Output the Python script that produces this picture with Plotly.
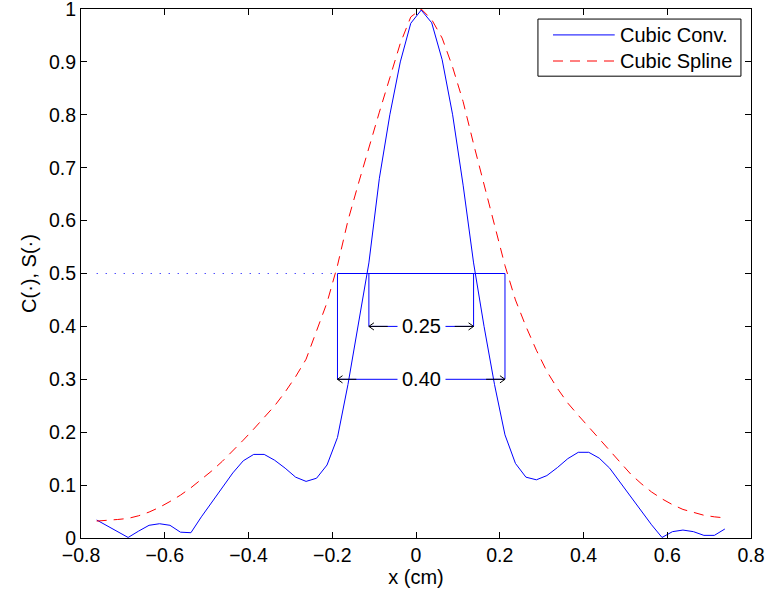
import plotly.graph_objects as go

# ---------------- data ----------------
x_cm = [-0.7625, -0.7375, -0.7125, -0.6875, -0.6625, -0.6375, -0.6125, -0.5875,
        -0.5625, -0.5375, -0.5125, -0.4875, -0.4625, -0.4375, -0.4125, -0.3875,
        -0.3625, -0.3375, -0.3125, -0.2875, -0.2625, -0.2375, -0.2125, -0.1875,
        -0.1625, -0.1375, -0.1125, -0.0875, -0.0625, -0.0375, -0.0125, 0.0125,
        0.0375, 0.0625, 0.0875, 0.1125, 0.1375, 0.1625, 0.1875, 0.2125,
        0.2375, 0.2625, 0.2875, 0.3125, 0.3375, 0.3625, 0.3875, 0.4125,
        0.4375, 0.4625, 0.4875, 0.5125, 0.5375, 0.5625, 0.5875, 0.6125,
        0.6375, 0.6625, 0.6875, 0.7125, 0.7375]

cubic_conv = [0.034, 0.023, 0.012, 0.001, 0.013, 0.024, 0.027, 0.024,
              0.011, 0.010, 0.040, 0.068, 0.096, 0.123, 0.146, 0.158,
              0.158, 0.147, 0.132, 0.115, 0.107, 0.113, 0.138, 0.190,
              0.290, 0.405, 0.520, 0.680, 0.800, 0.900, 0.973, 0.998,
              0.974, 0.904, 0.800, 0.667, 0.520, 0.400, 0.290, 0.195,
              0.141, 0.115, 0.110, 0.118, 0.133, 0.150, 0.162, 0.162,
              0.151, 0.132, 0.105, 0.077, 0.050, 0.025, 0.001, 0.012,
              0.015, 0.012, 0.005, 0.005, 0.017]

cubic_spline = [0.032, 0.033, 0.035, 0.037, 0.042, 0.049, 0.058, 0.069,
                0.081, 0.095, 0.111, 0.127, 0.145, 0.164, 0.185, 0.206,
                0.227, 0.250, 0.276, 0.305, 0.338, 0.390, 0.445, 0.515,
                0.600, 0.670, 0.740, 0.805, 0.870, 0.935, 0.985, 1.000,
                0.980, 0.945, 0.890, 0.825, 0.745, 0.670, 0.595, 0.515,
                0.450, 0.400, 0.355, 0.315, 0.283, 0.255, 0.232, 0.210,
                0.187, 0.164, 0.142, 0.121, 0.103, 0.087, 0.074, 0.063,
                0.054, 0.048, 0.043, 0.040, 0.038]

x_ticks = [-0.8, -0.6, -0.4, -0.2, 0, 0.2, 0.4, 0.6, 0.8]
y_ticks = [0, 0.1, 0.2, 0.3, 0.4, 0.5, 0.6, 0.7, 0.8, 0.9, 1]

half_max = 0.5
dotted_start = -0.7625
width_labels = ["0.25", "0.40"]
width_left = [-0.1125, -0.1875]
width_right = [0.1375, 0.2125]
width_level = [0.4, 0.3]

series_names = ["Cubic Conv.", "Cubic Spline"]

FONT = "Liberation Sans, Arial, Helvetica, sans-serif"
BLUE = "#0000ff"
RED = "#ff0000"

fig = go.Figure()

fig.add_trace(go.Scatter(x=x_cm, y=cubic_conv, mode="lines", name=series_names[0],
                         line=dict(color=BLUE, width=1), showlegend=False))
fig.add_trace(go.Scatter(x=x_cm, y=cubic_spline, mode="lines", name=series_names[1],
                         line=dict(color=RED, width=1, dash="10px,7px"), showlegend=False))

# width boxes (blue)
bx, by = [], []
for xl, xr, lv in zip(width_left, width_right, width_level):
    bx += [xl, xl, None, xr, xr, None, xl, xr, None]
    by += [half_max, lv, None, half_max, lv, None, lv, lv, None]
bx += [min(width_left), max(width_right)]
by += [half_max, half_max]
fig.add_trace(go.Scatter(x=bx, y=by, mode="lines", line=dict(color=BLUE, width=1),
                         showlegend=False, hoverinfo="skip"))

# dotted half-max line
fig.add_trace(go.Scatter(x=[dotted_start, min(width_left)], y=[half_max, half_max], mode="lines",
                         line=dict(color=BLUE, width=1, dash="1px,8px"), showlegend=False,
                         hoverinfo="skip"))

# arrows and labels
shaft = 0.045
hx, hy = 0.012, 0.0068
shapes = []
for lab, xl, xr, lv in zip(width_labels, width_left, width_right, width_level):
    shapes.append(dict(type="path", xref="x", yref="y",
                       path=f"M{xl+hx},{lv+hy} L{xl},{lv} L{xl+hx},{lv-hy} M{xl},{lv} L{xl+shaft},{lv}",
                       line=dict(color="black", width=1), layer="above"))
    shapes.append(dict(type="path", xref="x", yref="y",
                       path=f"M{xr-hx},{lv+hy} L{xr},{lv} L{xr-hx},{lv-hy} M{xr},{lv} L{xr-shaft},{lv}",
                       line=dict(color="black", width=1), layer="above"))
    fig.add_annotation(x=(xl + xr) / 2, y=lv, text=lab, showarrow=False,
                       font=dict(family=FONT, size=20, color="black"),
                       bgcolor="white", borderpad=4, xanchor="center", yanchor="middle")

# custom legend
lg_x0, lg_x1, lg_y0, lg_y1 = 0.682, 0.985, 0.873, 0.981
shapes.append(dict(type="rect", xref="paper", yref="paper", x0=lg_x0, x1=lg_x1, y0=lg_y0, y1=lg_y1,
                   line=dict(color="black", width=1), fillcolor="white", layer="above"))
legend_rows = [0.951, 0.9017]
legend_dash = ["solid", "10px,7px"]
legend_cols = [BLUE, RED]
for nm, yy, ds, cl in zip(series_names, legend_rows, legend_dash, legend_cols):
    shapes.append(dict(type="line", xref="paper", yref="paper", x0=0.7045, x1=0.7966, y0=yy, y1=yy,
                       line=dict(color=cl, width=1, dash=ds), layer="above"))
    fig.add_annotation(xref="paper", yref="paper", x=0.8015, y=yy, text=nm, showarrow=False,
                       xanchor="left", yanchor="middle",
                       font=dict(family=FONT, size=20, color="black"))

fig.update_layout(
    width=767, height=598,
    margin=dict(l=81, r=16, t=9, b=60, autoexpand=False),
    paper_bgcolor="white", plot_bgcolor="white",
    font=dict(family=FONT, size=19.5, color="black"),
    shapes=shapes,
    showlegend=False,
)
fig.update_xaxes(range=[-0.8, 0.8], tickvals=x_ticks, ticks="inside", ticklen=6,
                 tickcolor="black", showline=True, linecolor="black", linewidth=1,
                 mirror="ticks", showgrid=False, zeroline=False, automargin=False,
                 ticklabeloverflow="allow",
                 title=dict(text="x (cm)", font=dict(size=20), standoff=4))
fig.update_yaxes(range=[0, 1], tickvals=y_ticks, ticks="inside", ticklen=6,
                 tickcolor="black", showline=True, linecolor="black", linewidth=1,
                 mirror="ticks", showgrid=False, zeroline=False, automargin=False,
                 ticklabeloverflow="allow",
                 title=dict(text="C(·), S(·)", font=dict(size=20), standoff=6))

fig.write_html("out.html", config={"displayModeBar": False},
               post_script="document.body.style.margin='0';document.body.style.overflow='hidden';")
